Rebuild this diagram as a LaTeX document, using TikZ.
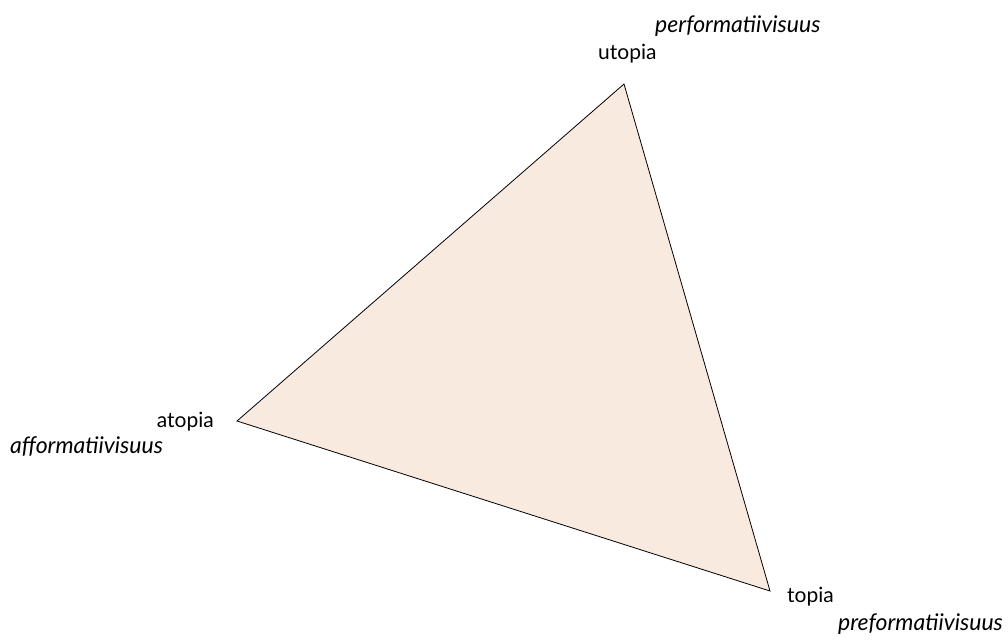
\documentclass[tikz,border=0pt]{standalone}
\usepackage{fontspec}
\setmainfont{Lato}
\definecolor{tri}{HTML}{F9EAE0}
\begin{document}
\begin{tikzpicture}[x=1pt,y=-1pt,
  lbl/.style={inner sep=0pt,font=\fontsize{21}{24}\selectfont},
  ilbl/.style={lbl,font=\fontsize{23}{26}\selectfont\itshape}]
\useasboundingbox (0,0) rectangle (1008,641);
\coordinate (U) at (624,84);
\coordinate (A) at (237,421);
\coordinate (T) at (770,591);
\filldraw[fill=tri,draw=black,line width=0.8pt,line join=miter] (U) -- (A) -- (T) -- cycle;
\node[lbl,anchor=base west] (utopia) at (598,59) {utopia};
\node[ilbl,anchor=base west] (perf) at (655,32) {performatiivisuus};
\node[lbl,anchor=base east] (atopia) at (214,427) {atopia};
\node[ilbl,anchor=base west] (aff) at (10,453) {afformatiivisuus};
\node[lbl,anchor=base west] (topia) at (787,602) {topia};
\node[ilbl,anchor=base east] (pref) at (1003,630) {preformatiivisuus};
\end{tikzpicture}
\end{document}
